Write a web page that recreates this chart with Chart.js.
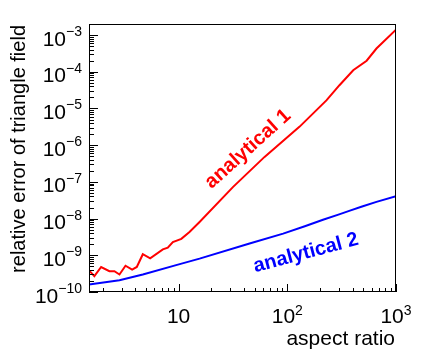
<!DOCTYPE html>
<html><head><meta charset="utf-8">
<script src="https://cdn.jsdelivr.net/npm/chart.js@4/dist/chart.umd.min.js"></script>
<style>html,body{margin:0;padding:0;background:#fff;overflow:hidden}canvas{display:block}</style>
</head><body>
<canvas id="c" width="445" height="352"></canvas>
<script>
// ---- data ----
const aspectRed = [1.5, 1.68, 1.94, 2.31, 2.57, 2.86, 3.25, 3.74, 4.13, 4.69, 5.48, 7.17, 7.96, 8.86, 10.6, 12.6, 15.6, 31.6, 61.8, 130, 229, 302, 404, 537, 661, 1000];
const errRed = [3.9e-10, 2.7e-10, 4.8e-10, 3.7e-10, 3.7e-10, 3.0e-10, 5.2e-10, 4.1e-10, 4.8e-10, 1.07e-9, 8.3e-10, 1.45e-9, 1.62e-9, 2.3e-9, 2.8e-9, 4.3e-9, 8.1e-9, 7.2e-8, 4.8e-7, 3.2e-6, 1.66e-5, 4.3e-5, 1.1e-4, 2.0e-4, 4.3e-4, 1.4e-3];
const aspectBlue = [1.5, 2.86, 4.69, 9.5, 15.6, 45, 91.6, 145, 213, 300, 377, 480, 661, 1000];
const errBlue = [1.6e-10, 2.1e-10, 3.0e-10, 5.4e-10, 8.1e-10, 2.1e-9, 3.9e-9, 6.2e-9, 9.3e-9, 1.3e-8, 1.65e-8, 2.1e-8, 2.85e-8, 4.1e-8];

const xTickValues = [10, 100, 1000];
const xTickExps = ['', '2', '3'];
const yTickValues = [1e-10, 1e-9, 1e-8, 1e-7, 1e-6, 1e-5, 1e-4, 1e-3];
const yTickExps = ['\u221210', '\u22129', '\u22128', '\u22127', '\u22126', '\u22125', '\u22124', '\u22123'];
const xTitle = 'aspect ratio';
const yTitle = 'relative error of triangle field';
const label1 = 'analytical 1';
const label2 = 'analytical 2';

const FONT = '"Liberation Sans", Arial, Helvetica, sans-serif';

function pts(xs, ys) { return xs.map((x, i) => ({x: x, y: ys[i]})); }

const rootAxes = {
  id: 'rootAxes',
  afterDatasetsDraw(chart) {
    const ctx = chart.ctx, a = chart.chartArea;
    const xs = chart.scales.x, ys = chart.scales.y;
    ctx.save();
    ctx.strokeStyle = '#000';
    ctx.lineWidth = 1;
    ctx.strokeRect(a.left + 0.5, a.top + 0.5, a.right - a.left - 1, a.bottom - a.top - 1);
    ctx.beginPath();
    for (let e = -10; e <= -3; e++) {
      for (let m = 1; m <= 9; m++) {
        const v = m * Math.pow(10, e);
        if (v < ys.min || v > ys.max) continue;
        const py = Math.round(ys.getPixelForValue(v)) + 0.5;
        const len = (m === 1) ? 9 : 5;
        ctx.moveTo(a.left, py); ctx.lineTo(a.left + len, py);
      }
    }
    for (let e = 0; e <= 3; e++) {
      for (let m = 1; m <= 9; m++) {
        const v = m * Math.pow(10, e);
        if (v < xs.min || v > xs.max) continue;
        const px = Math.round(xs.getPixelForValue(v)) + 0.5;
        const len = (m === 1) ? 8 : 4;
        ctx.moveTo(px, a.bottom); ctx.lineTo(px, a.bottom - len);
      }
    }
    ctx.stroke();

    ctx.fillStyle = '#000';
    ctx.textBaseline = 'alphabetic';
    yTickValues.forEach((v, i) => {
      const py = ys.getPixelForValue(v);
      ctx.font = '14px ' + FONT;
      const ew = ctx.measureText(yTickExps[i]).width;
      ctx.font = '21px ' + FONT;
      const bw = ctx.measureText('10').width;
      const right = a.left - 7;
      ctx.textAlign = 'left';
      ctx.fillText('10', right - ew - bw, py + 10.5);
      ctx.font = '14px ' + FONT;
      ctx.fillText(yTickExps[i], right - ew, py + 1);
    });
    xTickValues.forEach((v, i) => {
      const px = xs.getPixelForValue(v);
      ctx.font = '14px ' + FONT;
      const ew = xTickExps[i] ? ctx.measureText(xTickExps[i]).width : 0;
      ctx.font = '21px ' + FONT;
      const bw = ctx.measureText('10').width;
      const left = px - (bw + ew) / 2;
      ctx.textAlign = 'left';
      ctx.fillText('10', left, a.bottom + 31);
      if (xTickExps[i]) {
        ctx.font = '14px ' + FONT;
        ctx.fillText(xTickExps[i], left + bw, a.bottom + 23);
      }
    });
    ctx.font = '21px ' + FONT;
    ctx.textAlign = 'right';
    ctx.fillText(xTitle, a.right - 1, a.bottom + 53);
    ctx.save();
    ctx.translate(25, a.top + 1);
    ctx.rotate(-Math.PI / 2);
    ctx.font = '20px ' + FONT;
    ctx.textAlign = 'right';
    ctx.fillText(yTitle, 0, 0);
    ctx.restore();

    ctx.font = 'bold 20px ' + FONT;
    ctx.textAlign = 'center';
    ctx.textBaseline = 'middle';
    ctx.save();
    ctx.translate(248, 149);
    ctx.rotate(-42 * Math.PI / 180);
    ctx.fillStyle = '#ff0000';
    ctx.fillText(label1, 0, 0);
    ctx.restore();
    ctx.save();
    ctx.translate(306, 253);
    ctx.rotate(-15 * Math.PI / 180);
    ctx.fillStyle = '#0000ff';
    ctx.fillText(label2, 0, 0);
    ctx.restore();
    ctx.restore();
  }
};

new Chart(document.getElementById('c'), {
  type: 'line',
  data: {
    datasets: [
      {label: label1, data: pts(aspectRed, errRed), borderColor: '#ff0000', borderWidth: 2, pointRadius: 0, tension: 0, fill: false},
      {label: label2, data: pts(aspectBlue, errBlue), borderColor: '#0000ff', borderWidth: 2, pointRadius: 0, tension: 0, fill: false}
    ]
  },
  options: {
    responsive: false,
    animation: false,
    devicePixelRatio: 1,
    layout: {padding: {left: 89, top: 24, right: 49, bottom: 60}},
    plugins: {legend: {display: false}, tooltip: {enabled: false}},
    scales: {
      x: {type: 'logarithmic', min: 1.5, max: 1000, display: false},
      y: {type: 'logarithmic', min: 1e-10, max: 2e-3, display: false}
    }
  },
  plugins: [rootAxes]
});
</script>
</body></html>
